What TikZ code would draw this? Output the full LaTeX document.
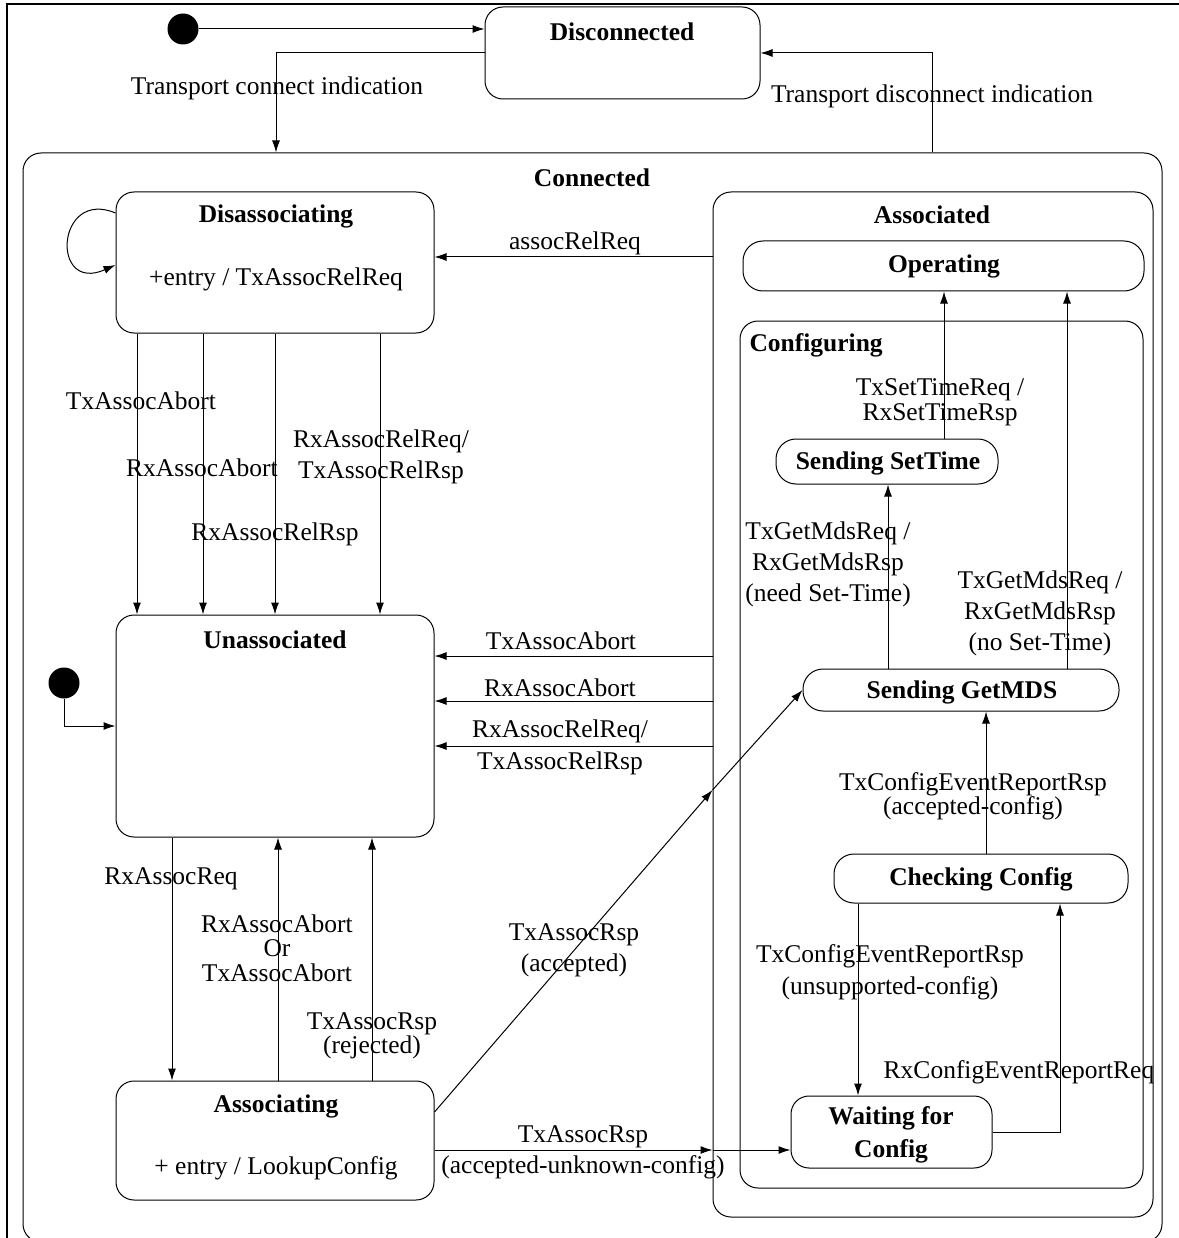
\documentclass[tikz,border=0pt]{standalone}
\usepackage{fontspec}
\setmainfont{Liberation Serif}
\usetikzlibrary{arrows.meta}

\begin{document}
\begin{tikzpicture}[x=1pt,y=-1pt,line width=1pt,>={Latex[length=12pt,width=8pt]},
    font=\fontsize{25.5}{31}\selectfont]
  \tikzstyle{stbox}=[draw,rounded corners=18,inner sep=0]
  \tikzstyle{smbox}=[draw,rounded corners=20,inner sep=0]
  \tikzstyle{title}=[font=\fontsize{25.5}{31}\selectfont\bfseries,inner sep=0,yshift=-2pt]
  \tikzstyle{lbl}=[align=center,inner sep=0,yshift=-2pt]
  \tikzstyle{init}=[circle,fill,inner sep=0,minimum size=31]

  \useasboundingbox (0,0) rectangle (1178,1238);
  \draw[line width=1.6pt] (7,1240) -- (7,4) -- (1180,4);

  % containers
  \node[stbox,minimum width=1139,minimum height=1089] (con) at (592.5,697.5) {};
  \node[stbox,minimum width=440,minimum height=1025] (asd) at (933,704.5) {};
  \node[stbox,minimum width=403,minimum height=867] (cfg) at (941.5,754.5) {};
  \node[title] (conT) at (592,176) {Connected};
  \node[title] (asdT) at (932,213) {Associated};
  \node[title,anchor=west] (cfgT) at (749,343) {Configuring};

  % states
  \node[stbox,minimum width=275,minimum height=92] (disc) at (622.5,53) {};
  \node[title] (discT) at (622,30) {Disconnected};
  \node[stbox,minimum width=318,minimum height=141] (dis) at (275,262.5) {};
  \node[title] (disT) at (276,214) {Disassociating};
  \node[lbl] (disE) at (276,277) {+entry / TxAssocRelReq};
  \node[stbox,minimum width=318,minimum height=222] (un) at (275,726) {};
  \node[title] (unT) at (275,638) {Unassociated};
  \node[stbox,minimum width=318,minimum height=119] (asg) at (275,1140.5) {};
  \node[title] (asgT) at (276,1104) {Associating};
  \node[lbl] (asgE) at (276,1166) {+ entry / LookupConfig};
  \node[smbox,minimum width=401,minimum height=50] (op) at (943.5,266) {};
  \node[title] (opT) at (944,264) {Operating};
  \node[smbox,minimum width=222,minimum height=45] (st) at (887,461.5) {};
  \node[title] (stT) at (888,461) {Sending SetTime};
  \node[smbox,minimum width=316,minimum height=42] (gm) at (961,690) {};
  \node[title] (gmT) at (962,690) {Sending GetMDS};
  \node[smbox,minimum width=294,minimum height=49] (cc) at (981,878.5) {};
  \node[title] (ccT) at (981,877) {Checking Config};
  \node[stbox,minimum width=201,minimum height=72] (wc) at (891.5,1132) {};
  \node[title,align=center,font=\fontsize{25.5}{33}\selectfont\bfseries] (wcT) at (891,1133) {Waiting for\\Config};
  \node[init] (init1) at (183,29) {};
  \node[init] (init2) at (64,683) {};

  % transitions
  \draw[->] (init1) -- (init1 -| disc.west);
  \draw[->] (disc.west) -| (con.north -| 276,0);
  \node[lbl] (tci) at (277,86) {Transport connect indication};
  \draw[->] (con.north -| 932,0) |- (disc.east);
  \node[lbl] (tdi) at (932,94) {Transport disconnect indication};

  \draw[->] (dis.west |- 0,213) .. controls (56,188) and (50,294) .. (dis.west |- 0,265);
  \draw[->] (asd.west |- 0,257) -- (dis.east |- 0,257);
  \node[lbl] (arr) at (575,241) {assocRelReq};

  \foreach \x in {137,203,275,380}
    \draw[->] (\x,0 |- dis.south) -- (\x,0 |- un.north);
  \node[lbl] (l1) at (141,399) {TxAssocAbort};
  \node[lbl] (l2) at (202,466) {RxAssocAbort};
  \node[lbl] (l3) at (275,532) {RxAssocRelRsp};
  \node[lbl] (l4) at (381,455) {RxAssocRelReq/\\TxAssocRelRsp};

  \draw[->] (init2.south) |- (un.west);
  \foreach \y in {656,701,746}
    \draw[->] (asd.west |- 0,\y) -- (un.east |- 0,\y);
  \node[lbl] (l5) at (561,639) {TxAssocAbort};
  \node[lbl] (l6) at (560,686) {RxAssocAbort};
  \node[lbl,font=\fontsize{25.5}{32}\selectfont] (l7) at (560,745) {RxAssocRelReq/\\TxAssocRelRsp};

  \draw[->] (172,0 |- un.south) -- (172,0 |- asg.north);
  \node[lbl] (l8) at (171,877) {RxAssocReq};
  \draw[->] (278,0 |- asg.north) -- (278,0 |- un.south);
  \node[lbl,font=\fontsize{25.5}{24.5}\selectfont] (l9) at (277,946) {RxAssocAbort\\Or\\TxAssocAbort};
  \draw[->] (372,0 |- asg.north) -- (372,0 |- un.south);
  \node[lbl,font=\fontsize{25.5}{23}\selectfont] (l10) at (372,1034) {TxAssocRsp\\(rejected)};

  \draw[->] (asg.east |- 0,1112) -- (asd.west |- 0,790);
  \draw[->] (asd.west |- 0,790) -- (gm.west);
  \node[lbl] (l11) at (574,948) {TxAssocRsp\\(accepted)};
  \draw[->] (asg.east |- 0,1150) -- (asd.west |- 0,1150);
  \draw[->] (asd.west |- 0,1150) -- (wc.west |- 0,1150);
  \node[lbl] (l12) at (583,1150) {TxAssocRsp\\(accepted-unknown-config)};

  \draw[->] (944,0 |- st.north) -- (944,0 |- op.south);
  \node[lbl,font=\fontsize{25.5}{25}\selectfont] (l13) at (940,400) {TxSetTimeReq /\\RxSetTimeRsp};
  \draw[->] (888,0 |- gm.north) -- (888,0 |- st.south);
  \node[lbl] (l14) at (828,562) {TxGetMdsReq /\\RxGetMdsRsp\\(need Set-Time)};
  \draw[->] (1067,0 |- gm.north) -- (1067,0 |- op.south);
  \node[lbl] (l15) at (1040,611) {TxGetMdsReq /\\RxGetMdsRsp\\(no Set-Time)};
  \draw[->] (986,0 |- cc.north) -- (986,0 |- gm.south);
  \node[lbl,font=\fontsize{25.5}{24}\selectfont] (l16) at (973,794) {TxConfigEventReportRsp\\(accepted-config)};
  \draw[->] (858,0 |- cc.south) -- (858,0 |- wc.north);
  \node[lbl,font=\fontsize{25.5}{32}\selectfont] (l17) at (890,970) {TxConfigEventReportRsp\\(unsupported-config)};
  \draw[->] (wc.east) -| (1060,0 |- cc.south);
  \node[lbl] (l18) at (1019,1070) {RxConfigEventReportReq};
\end{tikzpicture}
\end{document}
